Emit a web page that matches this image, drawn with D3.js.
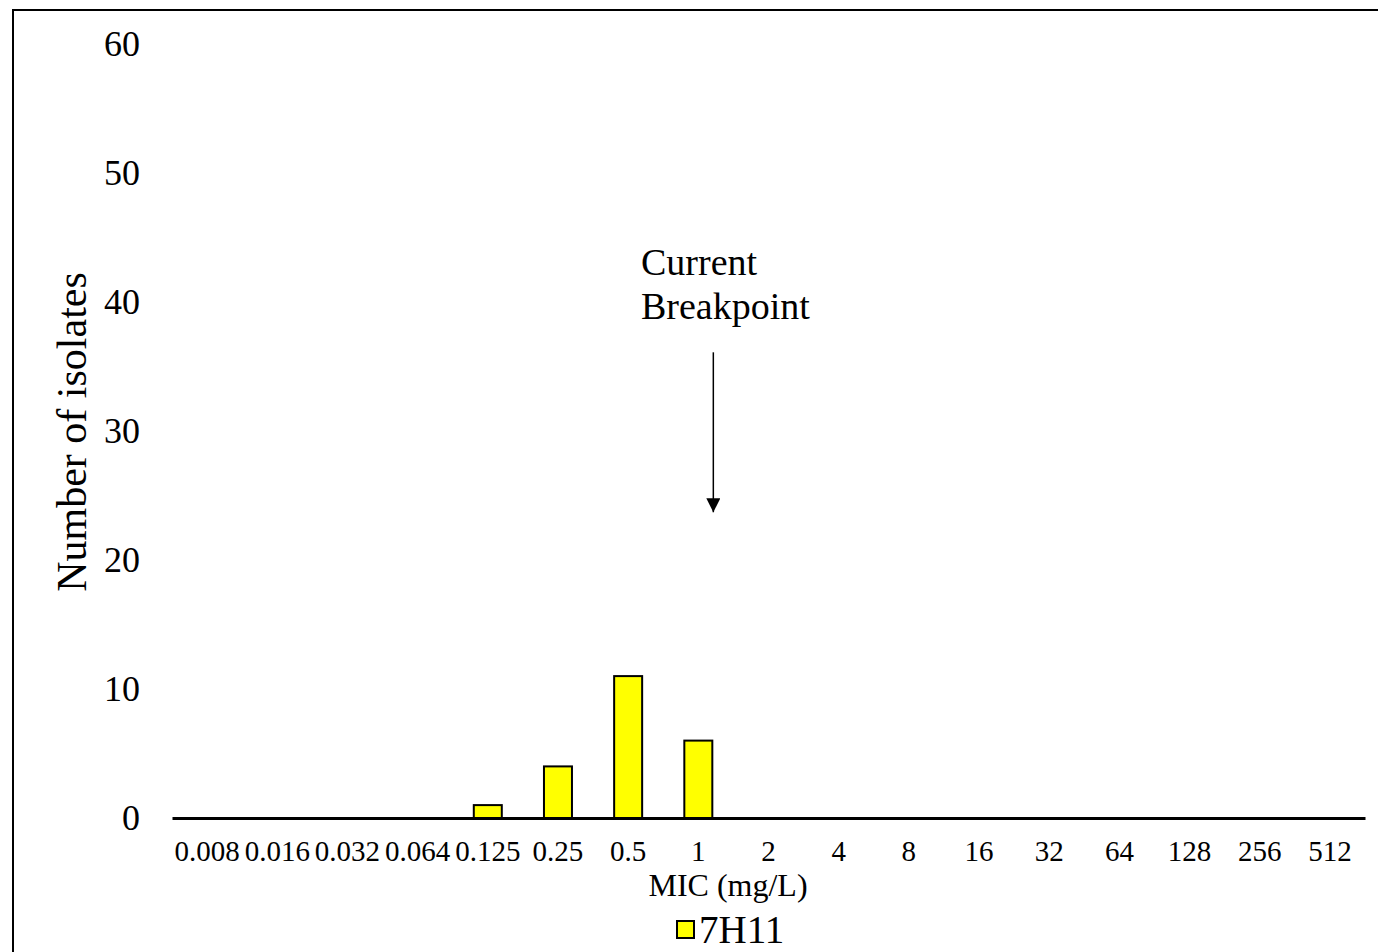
<!DOCTYPE html>
<html>
<head>
<meta charset="utf-8">
<script src="https://cdn.jsdelivr.net/npm/d3@7"></script>
<style>
  body { margin: 0; background: #fff; }
  text { font-family: "Liberation Serif", "Times New Roman", serif; fill: #000; }
</style>
</head>
<body>
<div id="chart"></div>
<script>
var micLabels = ["0.008", "0.016", "0.032", "0.064", "0.125", "0.25", "0.5", "1", "2", "4", "8", "16", "32", "64", "128", "256", "512"];
var isolates7H11 = [0, 0, 0, 0, 1, 4, 11, 6, 0, 0, 0, 0, 0, 0, 0, 0, 0];
var yTicks = [0, 10, 20, 30, 40, 50, 60];
var seriesName = "7H11";

var width = 1378, height = 952;
var margin = { left: 172, right: 13, top: 44, bottom: 134 };

var svg = d3.select("#chart").append("svg")
    .attr("width", width)
    .attr("height", height);

// outer frame
svg.append("rect")
    .attr("x", 13).attr("y", 10)
    .attr("width", 1400).attr("height", 1000)
    .attr("fill", "none")
    .attr("stroke", "#000")
    .attr("stroke-width", 2);

var xPos = d3.scaleBand()
    .domain(micLabels)
    .range([margin.left, width - margin.right]);

var y = d3.scaleLinear()
    .domain([0, 60])
    .range([height - margin.bottom, margin.top]);

var data = micLabels.map(function (d, i) { return { mic: d, count: isolates7H11[i] }; });

// bars
svg.selectAll(".bar")
    .data(data.filter(function (d) { return d.count > 0; }))
    .enter()
    .append("rect")
    .attr("class", "bar")
    .attr("x", function (d) { return xPos(d.mic) + xPos.bandwidth() / 2 - 14; })
    .attr("width", 28)
    .attr("y", function (d) { return y(d.count); })
    .attr("height", function (d) { return y(0) - y(d.count); })
    .attr("fill", "#ffff00")
    .attr("stroke", "#000")
    .attr("stroke-width", 2);

// x axis
var xAxis = svg.append("g")
    .attr("transform", "translate(0," + y(0) + ")")
    .call(d3.axisBottom(xPos).tickSize(0).tickPadding(22));
xAxis.select(".domain").attr("stroke", "#000").attr("stroke-width", 3);
xAxis.selectAll("text")
    .style("font-family", "'Liberation Serif', 'Times New Roman', serif")
    .style("font-size", "29px")
    .attr("fill", "#000");

// y axis
var yAxis = svg.append("g")
    .attr("transform", "translate(" + 140 + ",0)")
    .call(d3.axisLeft(y).tickValues(yTicks).tickSize(0).tickPadding(0));
yAxis.select(".domain").remove();
yAxis.selectAll("text")
    .style("font-family", "'Liberation Serif', 'Times New Roman', serif")
    .style("font-size", "36px")
    .attr("fill", "#000");

// axis titles
svg.append("text")
    .attr("transform", "translate(86," + (y(30) + 1) + ") rotate(-90)")
    .attr("text-anchor", "middle")
    .style("font-size", "42px")
    .text("Number of isolates");

svg.append("text")
    .attr("x", 728)
    .attr("y", 896)
    .attr("text-anchor", "middle")
    .style("font-size", "32px")
    .text("MIC (mg/L)");

// legend
svg.append("rect")
    .attr("x", 677).attr("y", 921)
    .attr("width", 17).attr("height", 17)
    .attr("fill", "#ffff00")
    .attr("stroke", "#000")
    .attr("stroke-width", 2);
svg.append("text")
    .attr("x", 699)
    .attr("y", 943)
    .style("font-size", "39px")
    .text(seriesName);

// breakpoint annotation
var arrowX = xPos("1") + xPos.bandwidth() / 2 + 15;
svg.append("defs").append("marker")
    .attr("id", "arrowhead")
    .attr("viewBox", "0 0 10 10")
    .attr("refX", 10).attr("refY", 5)
    .attr("markerWidth", 14).attr("markerHeight", 14)
    .attr("markerUnits", "userSpaceOnUse")
    .attr("orient", "auto")
    .append("path")
    .attr("d", "M0,0 L10,5 L0,10 Z")
    .attr("fill", "#000");

svg.append("line")
    .attr("x1", arrowX).attr("x2", arrowX)
    .attr("y1", y(36.1)).attr("y2", y(23.7))
    .attr("stroke", "#000")
    .attr("stroke-width", 1.5)
    .attr("marker-end", "url(#arrowhead)");

var note = svg.append("text")
    .attr("x", 641)
    .attr("y", 275)
    .style("font-size", "38px");
note.append("tspan").attr("x", 641).text("Current");
note.append("tspan").attr("x", 641).attr("dy", 44).text("Breakpoint");
</script>
</body>
</html>
